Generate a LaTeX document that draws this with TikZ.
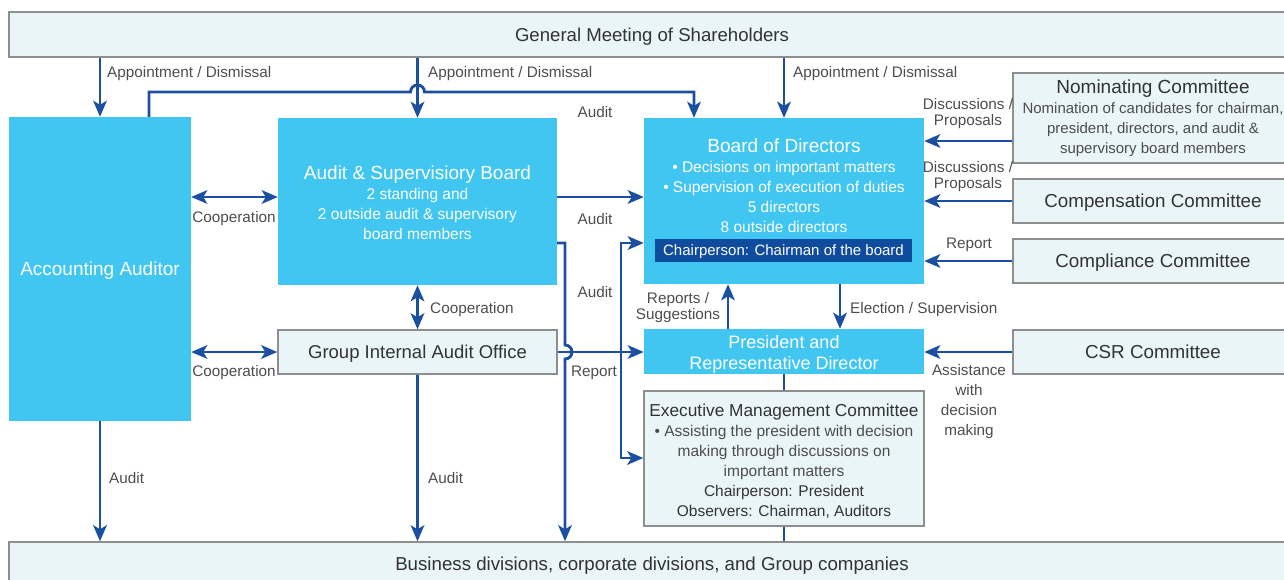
\documentclass[tikz,border=0pt]{standalone}
\usepackage{fontspec}
\setmainfont{Liberation Sans}
\usetikzlibrary{arrows.meta}
\definecolor{orgblue}{HTML}{41C6F2}
\definecolor{orgdark}{HTML}{0F4C9E}
\definecolor{linkblue}{HTML}{1B4FA0}
\definecolor{panel}{HTML}{E9F5F6}
\definecolor{panelline}{HTML}{8E8E8E}
\definecolor{inktitle}{HTML}{333333}
\definecolor{inkbody}{HTML}{4D4D4D}
\newcommand\fsz[2]{\fontsize{#1}{#2}\selectfont}
% invisible strut that lowers the text block inside a box
\newcommand\lift[1]{\rule{0pt}{#1}}

\begin{document}
\begin{tikzpicture}[x=1pt,y=-1pt,
  navtip/.tip={Stealth[length=16pt,width=13.5pt,inset=4pt]},
  bluebox/.style={fill=orgblue, text=white, inner sep=0pt, align=center},
  panelbox/.style={fill=panel, draw=panelline, line width=1.4pt, text=inktitle, inner sep=0pt, align=center},
  oneline/.style={text height=#1, text depth=0pt},
  oneline/.default=13.4pt,
  link/.style={draw=linkblue, line width=2.9pt},
  flow/.style={link, -navtip},
  twoway/.style={link, navtip-navtip},
  lbl/.style={text=inkbody, inner sep=0pt, align=center, font=\fsz{15.3}{16}, yshift=-2pt},
]
\useasboundingbox (0,0) rectangle (1284,579);
\clip (0,0) rectangle (1284,579);

% ---------- boxes ----------
\node[panelbox, oneline, minimum width=1286, minimum height=45, font=\fsz{18.6}{20}] (gms) at (652,34.5) {General Meeting of Shareholders};
\node[panelbox, oneline, minimum width=1286, minimum height=44, font=\fsz{18.7}{20}] (bot) at (652,564) {Business divisions, corporate divisions, and Group companies};

\node[bluebox, oneline, minimum width=182, minimum height=304, font=\fsz{19}{22}] (aa) at (100,269) {Accounting Auditor};

\node[bluebox, minimum width=279, minimum height=167, font=\fsz{15.5}{20}] (asb) at (417.5,201.5)
  {{\fsz{19}{20}\lift{17pt}Audit \& Supervisiory Board}\\ 2 standing and\\ 2 outside audit \& supervisory\\ board members};

\node[bluebox, minimum width=280, minimum height=166] (bod) at (784,201) {};
\node[text=white, align=center, inner sep=0pt, font=\fsz{15.5}{20}] (bodtext) at (784,186)
  {{\fsz{19}{20}Board of Directors}\\ • Decisions on important matters\\ • Supervision of execution of duties\\ 5 directors\\ 8 outside directors};
\node[fill=orgdark, text=white, oneline=10.8pt, minimum width=257, minimum height=23, inner sep=0pt, font=\fsz{15}{18}] (chair) at (783.5,250.5) {Chairperson: Chairman of the board};

\node[panelbox, oneline, minimum width=279, minimum height=44, font=\fsz{18.5}{20}] (giao) at (417.5,352) {Group Internal Audit Office};
\node[bluebox, minimum width=280, minimum height=45, font=\fsz{18}{21}] (pres) at (784,351.5) {\lift{18pt}President and\\Representative Director};

\node[panelbox, minimum width=280, minimum height=135, text=inkbody, font=\fsz{15.5}{20}] (emc) at (784,458.5)
  {{\color{inktitle}\fsz{17.3}{20}\lift{17pt}Executive Management Committee}\\
   • Assisting the president with decision\\
   making through discussions on\\
   important matters\\
   {\color{inktitle}Chairperson: President}\\
   {\color{inktitle}Observers: Chairman, Auditors}};

\node[panelbox, minimum width=280, minimum height=90, text=inkbody, font=\fsz{15}{20}] (nom) at (1153,118)
  {{\color{inktitle}\fsz{19}{20}\lift{14pt}Nominating Committee}\\
   Nomination of candidates for chairman,\\
   president, directors, and audit \&\\
   supervisory board members};
\node[panelbox, oneline, minimum width=280, minimum height=44, font=\fsz{18.8}{20}] (comp) at (1153,201) {Compensation Committee};
\node[panelbox, oneline, minimum width=280, minimum height=44, font=\fsz{18.8}{20}] (compl) at (1153,261) {Compliance Committee};
\node[panelbox, oneline, minimum width=280, minimum height=44, font=\fsz{18.8}{20}] (csr) at (1153,352) {CSR Committee};

% ---------- routing points ----------
\coordinate (hopA) at (417.5,92);
\coordinate (hopB) at (565,352);
\coordinate (rep) at (621,352);
\coordinate (y141) at (0,141);
\coordinate (y197) at (0,197);
\coordinate (y243) at (0,243);
\coordinate (y458) at (0,458);
\coordinate (x728) at (728,0);
\coordinate (x840) at (840,0);

% ---------- connectors ----------
\draw[flow] (gms.south -| aa.north) -- (aa.north);
\draw[flow] (gms.south -| asb.north) -- (asb.north);
\draw[flow] (gms.south -| bod.north) -- (bod.north);

% audit line from the accounting auditor, hopping over the appointment line
\draw[flow] ([xshift=49pt]aa.north) |- ([xshift=-7pt]hopA)
  arc[start angle=180, end angle=360, radius=7] -| ([xshift=-90pt]bod.north);

\draw[twoway] (aa.east |- y197) -- (asb.west |- y197);
\draw[twoway] (aa.east |- giao.west) -- (giao.west);
\draw[twoway] (asb.south) -- (giao.north);

\draw[flow] (asb.east |- y197) -- (bod.west |- y197);

% audit line from the board of auditors down to the divisions
\draw[flow] (asb.east |- y243) -| ([yshift=7pt]hopB)
  arc[start angle=270, end angle=450, radius=7] -- (hopB |- bot.north);

\draw[flow] (giao.east) -- (pres.west |- giao.east);
\draw[flow] (rep) |- (bod.west |- y243);
\draw[flow] (rep) |- (emc.west |- y458);

\draw[flow] (pres.north -| x728) -- (bod.south -| x728);
\draw[flow] (bod.south -| x840) -- (pres.north -| x840);
\draw[link] (pres.south) -- (emc.north);
\draw[link] (emc.south) -- (emc.south |- bot.north);

\draw[flow] (aa.south) -- (aa.south |- bot.north);
\draw[flow] (giao.south) -- (giao.south |- bot.north);

\draw[flow] (nom.west |- y141) -- (bod.east |- y141);
\draw[flow] (comp.west) -- (bod.east |- comp.west);
\draw[flow] (compl.west) -- (bod.east |- compl.west);
\draw[flow] (csr.west) -- (pres.east |- csr.west);

% ---------- connector labels ----------
\node[lbl, anchor=west] (ad1) at (107,72) {Appointment / Dismissal};
\node[lbl, anchor=west] (ad2) at (428,72) {Appointment / Dismissal};
\node[lbl, anchor=west] (ad3) at (793,72) {Appointment / Dismissal};
\node[lbl] (au1) at (595,110) {Audit};
\node[lbl] (co1) at (234,217) {Cooperation};
\node[lbl] (au2) at (595,217) {Audit};
\node[lbl] (au3) at (595,290) {Audit};
\node[lbl, anchor=west] (co2) at (430,308) {Cooperation};
\node[lbl] (co3) at (234,371) {Cooperation};
\node[lbl] (rp1) at (594,371) {Report};
\node[lbl] (rs) at (678,306) {Reports /\\Suggestions};
\node[lbl, anchor=west] (es) at (850,308) {Election / Supervision};
\node[lbl] (dp1) at (968,112) {Discussions /\\Proposals};
\node[lbl] (dp2) at (968,175) {Discussions /\\Proposals};
\node[lbl] (rp2) at (969,243) {Report};
\node[lbl, font=\fsz{15.3}{20}] (as) at (969,400) {Assistance\\with\\decision\\making};
\node[lbl, anchor=west] (au4) at (109,476) {Audit};
\node[lbl, anchor=west] (au5) at (428,476) {Audit};
\end{tikzpicture}
\end{document}
